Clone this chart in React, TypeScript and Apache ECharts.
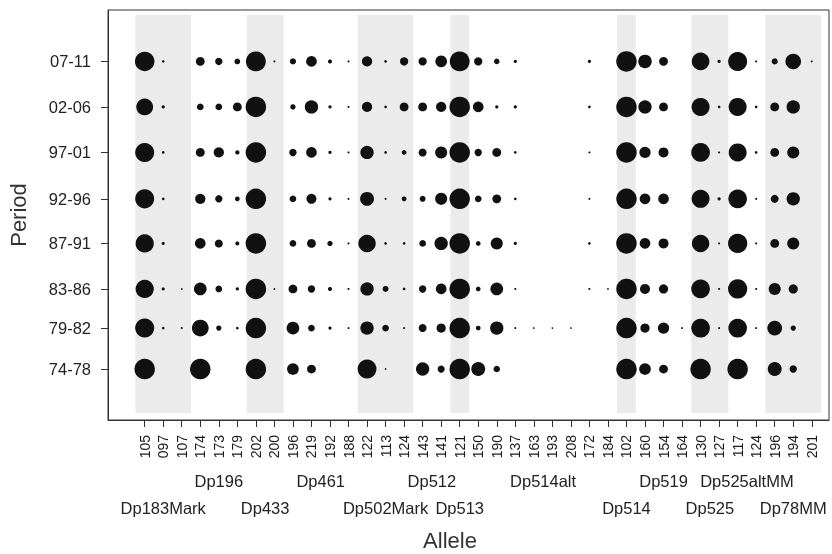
import React, { useEffect, useRef } from "react";
import * as echarts from "echarts";

const alleles = [
  "105", "097", "107", "174", "173", "179", "202", "200", "196", "219", "192", "188",
  "122", "113", "124", "143", "141", "121", "150", "190", "137", "163", "193", "208",
  "172", "184", "102", "160", "154", "164", "130", "127", "117", "124", "196", "194", "201",
];
const lociNames = [
  "Dp183Mark", "Dp196", "Dp433", "Dp461", "Dp502Mark", "Dp512", "Dp513",
  "Dp514alt", "Dp514", "Dp519", "Dp525", "Dp525altMM", "Dp78MM",
];
const lociAlleleCounts = [3, 3, 2, 4, 3, 2, 1, 8, 1, 3, 2, 2, 3];

const periods = ["74-78", "79-82", "83-86", "87-91", "92-96", "97-01", "02-06", "07-11"];
const periodYears = [76, 80.5, 84.8, 89.8, 94.7, 99.8, 104.8, 109.8];

// allele frequencies per period (same order as alleles)
const f7478 = [1.0, 0, 0, 1.0, 0, 0, 1.0, 0, 0.57, 0.43, 0, 0, 0.92, 0.08, 0, 0.65, 0.35, 1.0, 0.68, 0.32, 0, 0, 0, 0, 0, 0, 1.0, 0.57, 0.43, 0, 1.0, 0, 1.0, 0, 0.68, 0.36, 0];
const f7982 = [0.93, 0.13, 0.1, 0.82, 0.26, 0.13, 1.0, 0, 0.62, 0.33, 0.16, 0.1, 0.65, 0.33, 0.1, 0.39, 0.45, 1.0, 0.23, 0.65, 0.1, 0.08, 0.08, 0.08, 0, 0, 1.0, 0.45, 0.55, 0.1, 0.91, 0.1, 0.91, 0.1, 0.72, 0.26, 0];
const f8386 = [0.89, 0.15, 0.08, 0.62, 0.33, 0.16, 1.0, 0.08, 0.43, 0.36, 0.2, 0.1, 0.65, 0.29, 0.13, 0.36, 0.52, 1.0, 0.23, 0.62, 0.1, 0, 0, 0, 0.1, 0.08, 1.0, 0.49, 0.45, 0, 0.91, 0.1, 0.94, 0.1, 0.59, 0.45, 0];
const f8791 = [0.89, 0.15, 0, 0.52, 0.39, 0.2, 1.0, 0, 0.33, 0.43, 0.26, 0.1, 0.85, 0.13, 0.13, 0.33, 0.65, 1.0, 0.23, 0.59, 0.16, 0, 0, 0, 0.13, 0, 1.0, 0.52, 0.49, 0, 0.85, 0.1, 0.94, 0.1, 0.43, 0.59, 0];
const f9296 = [0.93, 0.13, 0, 0.5, 0.36, 0.23, 1.0, 0, 0.33, 0.49, 0.16, 0.1, 0.68, 0.1, 0.23, 0.29, 0.59, 1.0, 0.33, 0.43, 0.13, 0, 0, 0, 0.1, 0, 1.0, 0.52, 0.52, 0, 0.88, 0.16, 0.91, 0.1, 0.39, 0.65, 0];
const f9701 = [0.93, 0.13, 0, 0.43, 0.5, 0.21, 1.0, 0, 0.36, 0.52, 0.16, 0.1, 0.65, 0.13, 0.23, 0.39, 0.59, 1.0, 0.36, 0.43, 0.13, 0, 0, 0, 0.1, 0, 1.0, 0.55, 0.49, 0, 0.91, 0.1, 0.88, 0.13, 0.43, 0.59, 0];
const f0206 = [0.82, 0.16, 0, 0.33, 0.33, 0.43, 1.0, 0, 0.26, 0.65, 0.16, 0.1, 0.5, 0.13, 0.43, 0.43, 0.5, 1.0, 0.52, 0.16, 0.16, 0, 0, 0, 0.13, 0, 1.0, 0.65, 0.43, 0, 0.88, 0.13, 0.88, 0.13, 0.43, 0.65, 0];
const f0711 = [0.95, 0.12, 0, 0.43, 0.36, 0.28, 0.97, 0.1, 0.3, 0.52, 0.2, 0.1, 0.5, 0.13, 0.4, 0.4, 0.57, 0.97, 0.4, 0.27, 0.16, 0, 0, 0, 0.16, 0, 1.0, 0.66, 0.43, 0, 0.86, 0.16, 0.93, 0.1, 0.3, 0.76, 0.1];

const freqByPeriod = [f7478, f7982, f8386, f8791, f9296, f9701, f0206, f0711];

const FONT = "'Liberation Sans', Arial, sans-serif";

export default function App() {
  const ref = useRef<HTMLDivElement>(null);

  useEffect(() => {
    if (!ref.current) return;
    const chart = echarts.init(ref.current, undefined, { renderer: "svg" });

    // loci groups
    const groups: { name: string; start: number; end: number; center: number }[] = [];
    let s = 0;
    lociNames.forEach((n, i) => {
      const c = lociAlleleCounts[i];
      groups.push({ name: n, start: s, end: s + c - 1, center: s + (c - 1) / 2 });
      s += c;
    });
    const topGroups = groups.filter((_, i) => i % 2 === 1);
    const bottomGroups = groups.filter((_, i) => i % 2 === 0);
    const nameAt = (list: typeof groups) => (v: number) => {
      const g = list.find((gg) => Math.abs(gg.center - v) < 1e-6);
      return g ? g.name : "";
    };

    const idx = alleles.map((_, i) => i);
    const xMin = -1.98;
    const xMax = 36.93;
    const yMin = 70.4;
    const yMax = 115.45;
    const bandLow = 71.16;
    const bandHigh = 114.9;

    const dots: number[][] = [];
    freqByPeriod.forEach((row, pi) => {
      row.forEach((f, ai) => {
        if (f > 0) dots.push([ai, periodYears[pi], f]);
      });
    });

    const shaded = groups
      .filter((_, i) => i % 2 === 0)
      .map((g) => [
        { xAxis: g.start - 0.5, yAxis: bandLow },
        { xAxis: g.end + 0.5, yAxis: bandHigh },
      ]);

    const hiddenAxis = {
      type: "value",
      min: xMin,
      max: xMax,
      position: "bottom",
      axisLine: { show: false },
      axisTick: { show: false },
      splitLine: { show: false },
    };

    chart.setOption({
      animation: false,
      grid: {
        left: 108,
        right: 3,
        top: 10,
        bottom: 134,
        show: true,
        borderColor: "#333",
        borderWidth: 1,
        backgroundColor: "transparent",
      },
      xAxis: [
        {
          type: "value",
          min: xMin,
          max: xMax,
          position: "bottom",
          axisLine: { show: true, onZero: false, lineStyle: { color: "#333", width: 1 } },
          axisTick: { show: true, length: 7, customValues: idx, lineStyle: { color: "#333" } },
          axisLabel: {
            customValues: idx,
            formatter: (v: number) => alleles[Math.round(v)],
            rotate: 90,
            margin: 15,
            fontSize: 14,
            color: "#1a1a1a",
            fontFamily: FONT,
          },
          splitLine: { show: false },
        },
        {
          ...hiddenAxis,
          offset: 44,
          axisLabel: {
            customValues: topGroups.map((g) => g.center),
            formatter: nameAt(topGroups),
            margin: 8,
            fontSize: 16.5,
            color: "#222",
            fontFamily: FONT,
          },
        },
        {
          ...hiddenAxis,
          offset: 71,
          axisLabel: {
            customValues: bottomGroups.map((g) => g.center),
            formatter: nameAt(bottomGroups),
            margin: 8,
            fontSize: 16.5,
            color: "#222",
            fontFamily: FONT,
          },
        },
      ],
      yAxis: {
        type: "value",
        min: yMin,
        max: yMax,
        axisLine: { show: true, onZero: false, lineStyle: { color: "#333", width: 1 } },
        axisTick: { show: true, length: 7, customValues: periodYears, lineStyle: { color: "#333" } },
        axisLabel: {
          customValues: periodYears,
          formatter: (v: number) => {
            const i = periodYears.findIndex((p) => Math.abs(p - v) < 1e-6);
            return i >= 0 ? periods[i] : "";
          },
          margin: 17,
          fontSize: 16.5,
          color: "#222",
          fontFamily: FONT,
        },
        splitLine: { show: false },
      },
      graphic: [
        {
          type: "text",
          x: 450,
          y: 540,
          style: {
            text: "Allele",
            fontSize: 22,
            fill: "#333",
            fontFamily: FONT,
            align: "center",
            verticalAlign: "middle",
          },
        },
        {
          type: "text",
          x: 18,
          y: 215,
          rotation: Math.PI / 2,
          style: {
            text: "Period",
            fontSize: 22,
            fill: "#333",
            fontFamily: FONT,
            align: "center",
            verticalAlign: "middle",
          },
        },
      ],
      series: [
        {
          type: "scatter",
          xAxisIndex: 0,
          data: [],
          silent: true,
          z: 1,
          markArea: {
            silent: true,
            itemStyle: { color: "#ebebeb", borderWidth: 0 },
            data: shaded,
          },
        },
        {
          type: "scatter",
          xAxisIndex: 0,
          z: 3,
          data: dots,
          symbol: "circle",
          symbolSize: (v: number[]) => v[2] * 20.5,
          itemStyle: { color: "#111", opacity: 1 },
        },
      ],
    });

    return () => chart.dispose();
  }, []);

  return (
    <div
      ref={ref}
      style={{ position: "fixed", left: 0, top: 0, width: 832, height: 554 }}
    />
  );
}
